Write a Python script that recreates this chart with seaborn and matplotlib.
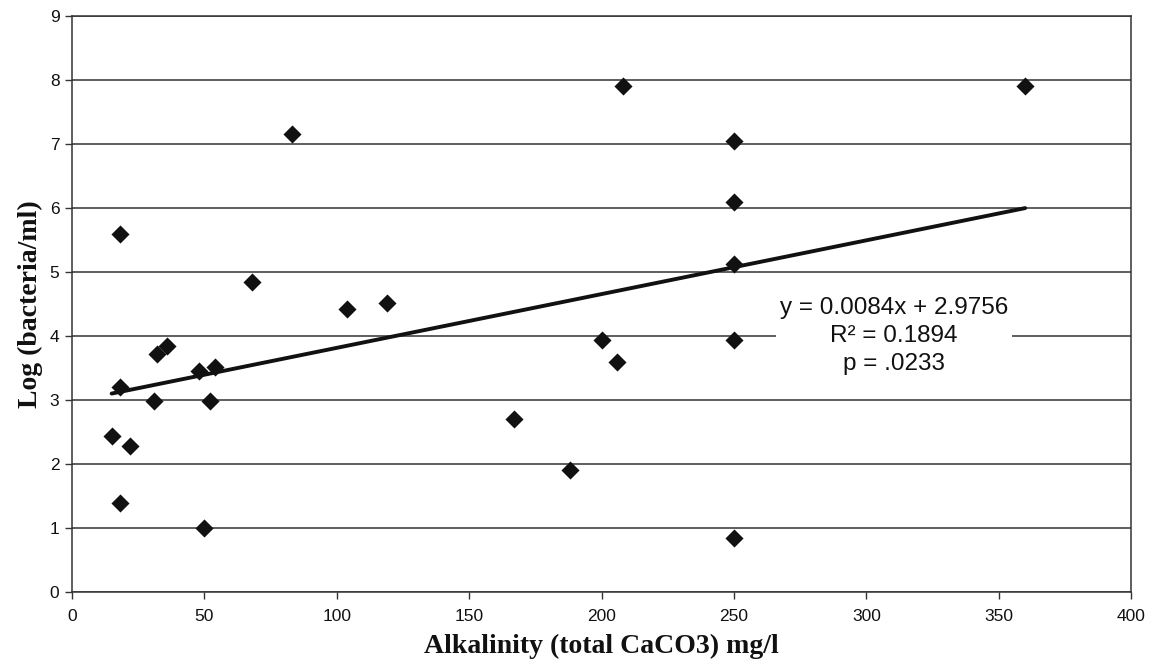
import numpy as np
import pandas as pd
import matplotlib
matplotlib.use('Agg')
import matplotlib.pyplot as plt
import seaborn as sns

# data
alkalinity = [15, 18, 18, 18, 22, 31, 32, 36, 48, 50, 52, 54, 68, 83, 104, 119,
              167, 188, 200, 206, 208, 250, 250, 250, 250, 250, 360]
log_bacteria = [2.44, 5.6, 3.21, 1.39, 2.29, 2.99, 3.72, 3.84, 3.46, 1.0, 2.99, 3.51,
                4.85, 7.15, 4.42, 4.52, 2.70, 1.90, 3.94, 3.60, 7.90, 7.04, 6.09,
                5.12, 3.94, 0.84, 7.90]
slope = 0.0084
intercept = 2.9756
r2 = 0.1894
p_value = '.0233'

df = pd.DataFrame({'alk': alkalinity, 'logb': log_bacteria})

sns.set_style('white')
plt.rcParams['font.family'] = ['Liberation Sans', 'DejaVu Sans']

fig = plt.figure(figsize=(11.53, 6.69), dpi=100)
ax = fig.add_axes([0.0624, 0.115, 0.9186, 0.861])

# trendline over the data range
xl = np.array([df['alk'].min(), df['alk'].max()])
ax.plot(xl, slope * xl + intercept, color='#111111', lw=2.8, zorder=3)

sns.scatterplot(data=df, x='alk', y='logb', marker='D', s=85, color='#111111',
                edgecolor='#111111', linewidth=0, ax=ax, zorder=4)

ax.set_xlim(0, 400)
ax.set_ylim(0, 9)
ax.set_xticks(range(0, 401, 50))
ax.set_yticks(range(0, 10))
ax.grid(axis='y', color='#333333', lw=1.1)
ax.set_axisbelow(True)
for s in ax.spines.values():
    s.set_color('#333333')
    s.set_linewidth(1.1)

ax.tick_params(axis='x', direction='out', length=5, width=1, color='#333333',
               pad=7, labelsize=12.5, labelcolor='#111111', bottom=True)
ax.tick_params(axis='y', direction='out', length=5, width=1, color='#333333',
               pad=4, labelsize=12.5, labelcolor='#111111', left=True)

ax.set_xlabel('Alkalinity (total CaCO3) mg/l', family='Liberation Serif',
              fontweight='bold', fontsize=20, labelpad=7, color='#111111')
ax.set_ylabel('Log (bacteria/ml)', family='Liberation Serif',
              fontweight='bold', fontsize=20, labelpad=5, color='#111111')

ax.text(310.4, 4.0,
        f'y = {slope:.4f}x + {intercept:.4f}\nR² = {r2:.4f}\np = {p_value}',
        ha='center', va='center', fontsize=17.5, linespacing=1.35, color='#111111',
        bbox=dict(facecolor='white', edgecolor='none', pad=3), zorder=5)

fig.savefig('out.png', dpi=100)
